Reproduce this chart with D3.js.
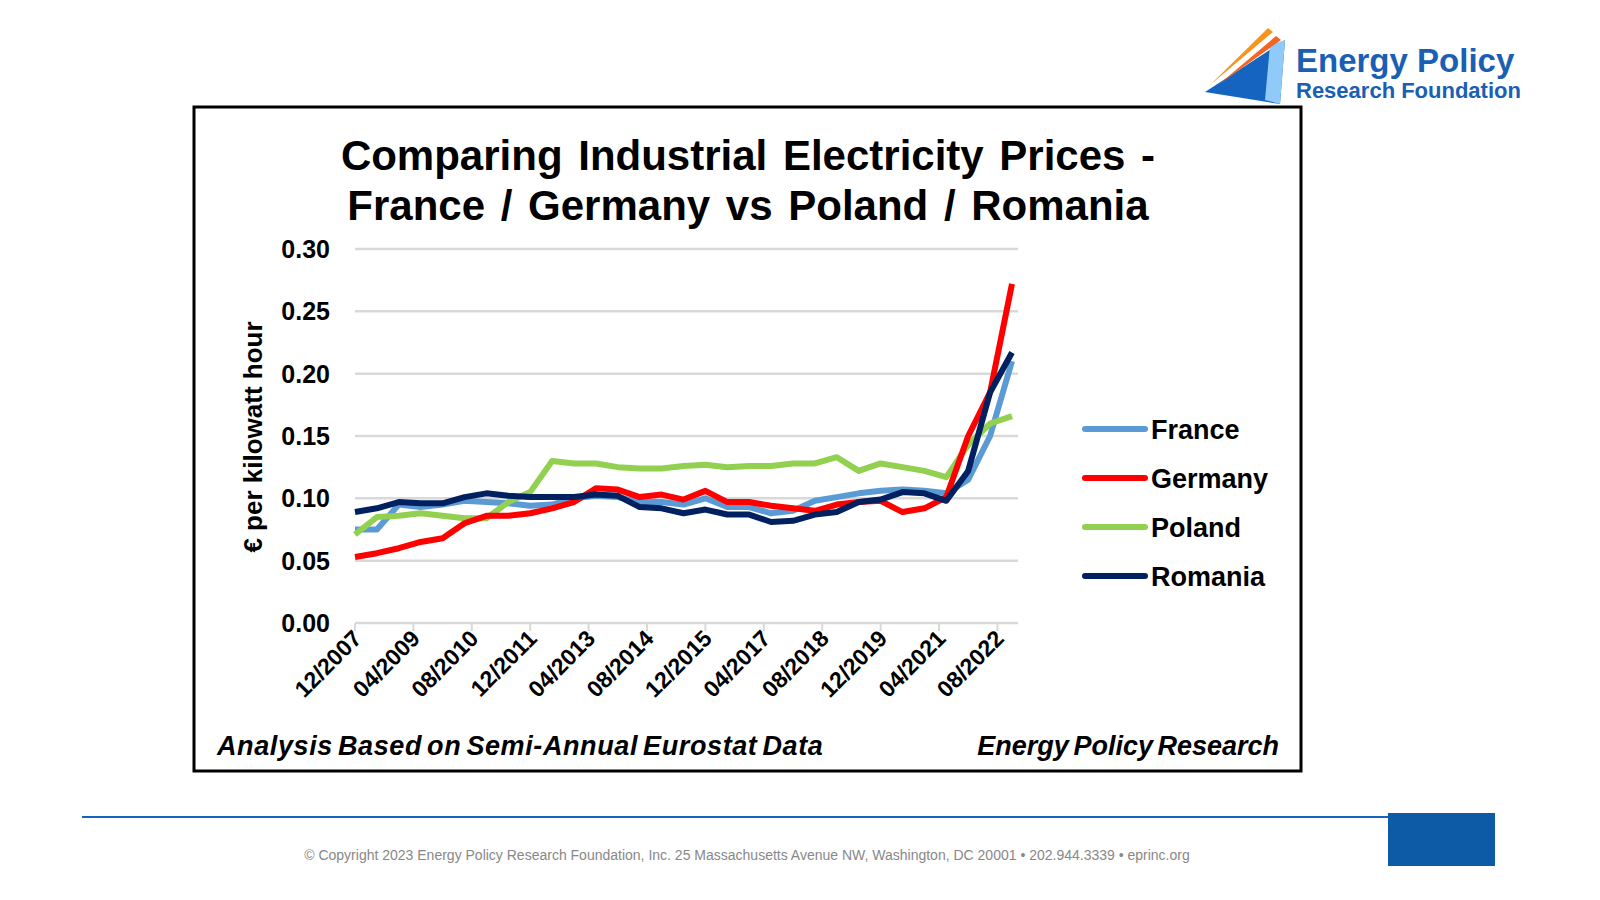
<!DOCTYPE html><html><head><meta charset="utf-8"><script src="https://cdn.jsdelivr.net/npm/d3@7"></script>
<style>body{margin:0;background:#fff}svg{font-family:Arial,"Liberation Sans",sans-serif}</style></head><body><svg id="c" width="1600" height="900"></svg>
<script>
const seriesNames=["France","Germany","Poland","Romania"];
const colors=["#5b9bd5","#ff0000","#92d050","#002060"];
const france=[0.075,0.075,0.095,0.093,0.095,0.098,0.097,0.096,0.094,0.095,0.100,0.102,0.101,0.097,0.097,0.095,0.100,0.093,0.093,0.088,0.090,0.098,0.101,0.104,0.106,0.107,0.106,0.104,0.115,0.150,0.210];
const germany=[0.053,0.056,0.060,0.065,0.068,0.080,0.086,0.086,0.088,0.092,0.097,0.108,0.107,0.101,0.103,0.099,0.106,0.097,0.097,0.094,0.092,0.090,0.095,0.097,0.098,0.089,0.092,0.101,0.150,0.185,0.272];
const poland=[0.071,0.085,0.086,0.088,0.086,0.084,0.084,0.097,0.105,0.130,0.128,0.128,0.125,0.124,0.124,0.126,0.127,0.125,0.126,0.126,0.128,0.128,0.133,0.122,0.128,0.125,0.122,0.117,0.143,0.160,0.166];
const romania=[0.089,0.092,0.097,0.096,0.096,0.101,0.104,0.102,0.101,0.101,0.101,0.103,0.102,0.093,0.092,0.088,0.091,0.087,0.087,0.081,0.082,0.087,0.089,0.097,0.099,0.105,0.104,0.098,0.122,0.185,0.217];
const tickLabels=["12/2007","04/2009","08/2010","12/2011","04/2013","08/2014","12/2015","04/2017","08/2018","12/2019","04/2021","08/2022"];
const yTicks=[0,0.05,0.10,0.15,0.20,0.25,0.30];
const allSeries=[france,germany,poland,romania];
const svg=d3.select("#c");
const x=d3.scaleLinear().domain([0,180]).range([355,1012]);
const y=d3.scaleLinear().domain([0,0.30]).range([623,249]);
svg.append("rect").attr("x",194).attr("y",107).attr("width",1107).attr("height",664).attr("fill","none").attr("stroke","#000").attr("stroke-width",3);
svg.append("text").attr("x",748).attr("y",170).attr("text-anchor","middle").attr("font-size",42).attr("font-weight","bold").attr("word-spacing",4).text("Comparing Industrial Electricity Prices -");
svg.append("text").attr("x",748).attr("y",220).attr("text-anchor","middle").attr("font-size",42).attr("font-weight","bold").attr("word-spacing",4).text("France / Germany vs Poland / Romania");
svg.append("g").selectAll("line").data(yTicks).join("line").attr("x1",355).attr("x2",1018).attr("y1",d=>y(d)).attr("y2",d=>y(d)).attr("stroke","#d9d9d9").attr("stroke-width",2.5);
svg.append("g").selectAll("text").data(yTicks).join("text").attr("x",330).attr("y",d=>y(d)+9).attr("text-anchor","end").attr("font-size",25).attr("font-weight","bold").text(d=>d.toFixed(2));
const tg=svg.append("g");
tickLabels.forEach((t,k)=>{const tx=x(16*k);
 tg.append("line").attr("x1",tx).attr("x2",tx).attr("y1",623).attr("y2",631).attr("stroke","#d9d9d9").attr("stroke-width",2);
 tg.append("text").attr("transform",`translate(${tx+8},${640}) rotate(-45)`).attr("text-anchor","end").attr("font-size",23).attr("font-weight","bold").text(t);});
svg.append("text").attr("transform","translate(262,437) rotate(-90)").attr("text-anchor","middle").attr("font-size",26).attr("font-weight","bold").text("€ per kilowatt hour");
const line=d3.line().x((d,i)=>x(6*i)).y(d=>y(d));
[0,2,1,3].forEach(s=>svg.append("path").datum(allSeries[s]).attr("d",line).attr("fill","none").attr("stroke",colors[s]).attr("stroke-width",6).attr("stroke-linejoin","round"));
seriesNames.forEach((n,i)=>{const ly=429+49*i;
 svg.append("line").attr("x1",1085).attr("x2",1145).attr("y1",ly).attr("y2",ly).attr("stroke",colors[i]).attr("stroke-width",6).attr("stroke-linecap","round");
 svg.append("text").attr("x",1151).attr("y",ly+10).attr("font-size",27).attr("font-weight","bold").text(n);});
svg.append("text").attr("x",217).attr("y",755).attr("font-size",27).attr("font-weight","bold").attr("font-style","italic").attr("word-spacing",-3).attr("letter-spacing",0.6).text("Analysis Based on Semi-Annual Eurostat Data");
svg.append("text").attr("x",1279).attr("y",755).attr("text-anchor","end").attr("font-size",27).attr("font-weight","bold").attr("font-style","italic").attr("word-spacing",-3).text("Energy Policy Research");
// logo
svg.append("polygon").attr("points","1205,92 1285,40 1280,104").attr("fill","#1565c0");
svg.append("polygon").attr("points","1270,45 1285,40 1280,104 1265,100").attr("fill","#90caf9");
svg.append("polygon").attr("points","1210,85 1268,28 1273,32").attr("fill","#f7941d");
svg.append("polygon").attr("points","1218,85 1276,36 1281,40").attr("fill","#f26522");
svg.append("text").attr("x",1296).attr("y",72).attr("font-size",33).attr("font-weight","bold").attr("fill","#1a5fb4").text("Energy Policy");
svg.append("text").attr("x",1296).attr("y",98).attr("font-size",22).attr("font-weight","bold").attr("fill","#1a5fb4").text("Research Foundation");
// footer
svg.append("line").attr("x1",82).attr("x2",1390).attr("y1",817).attr("y2",817).attr("stroke","#1565c0").attr("stroke-width",2);
svg.append("rect").attr("x",1388).attr("y",813).attr("width",107).attr("height",53).attr("fill","#0d5aa7");
svg.append("text").attr("x",747).attr("y",860).attr("text-anchor","middle").attr("font-size",14).attr("fill","#888").text("© Copyright 2023 Energy Policy Research Foundation, Inc. 25 Massachusetts Avenue NW, Washington, DC 20001 • 202.944.3339 • eprinc.org");
</script></body></html>
